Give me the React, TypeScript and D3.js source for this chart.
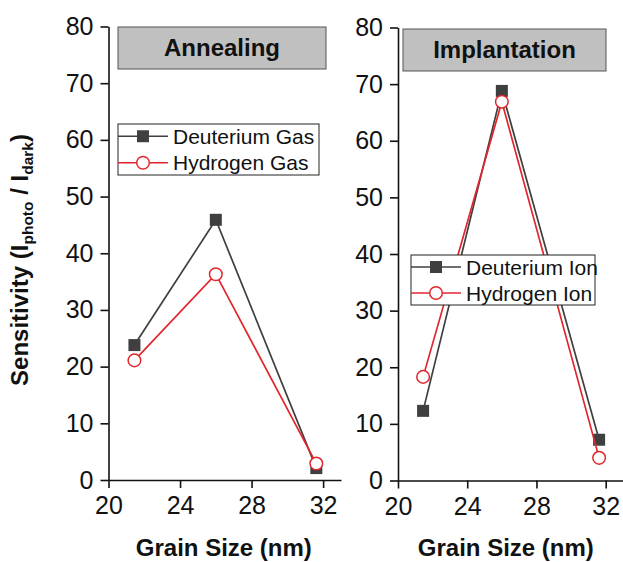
import React, { useEffect, useRef } from "react";
import * as d3 from "d3";

// grain size (nm) for each sample
const grainSize: number[] = [21.45, 26.0, 31.62];

// annealing panel
const deuteriumGas: number[] = [23.8, 45.9, 2.1];
const hydrogenGas: number[] = [21.1, 36.3, 2.9];

// implantation panel
const deuteriumIon: number[] = [12.3, 68.8, 7.2];
const hydrogenIon: number[] = [18.3, 66.9, 4.0];

const xTicks: number[] = [20, 24, 28, 32];
const yTicks: number[] = [0, 10, 20, 30, 40, 50, 60, 70, 80];

const FONT = "'Liberation Sans', Arial, Helvetica, sans-serif";
const DARK = "#3f3f3f";
const RED = "#e2262c";

type Panel = {
  title: string;
  left: number;
  right: number;
  top: number;
  bottom: number;
  titleBox: [number, number, number, number];
  legendBox: [number, number, number, number];
  legendNames: [string, string];
  dSeries: number[];
  hSeries: number[];
};

const panels: Panel[] = [
  {
    title: "Annealing",
    left: 108.5, right: 341, top: 26.5, bottom: 480,
    titleBox: [118, 27, 208, 42],
    legendBox: [118, 124, 201, 51],
    legendNames: ["Deuterium Gas", "Hydrogen Gas"],
    dSeries: deuteriumGas,
    hSeries: hydrogenGas,
  },
  {
    title: "Implantation",
    left: 398, right: 623, top: 27.5, bottom: 480.5,
    titleBox: [403, 29, 203, 42],
    legendBox: [411, 255, 184, 50],
    legendNames: ["Deuterium Ion", "Hydrogen Ion"],
    dSeries: deuteriumIon,
    hSeries: hydrogenIon,
  },
];

export default function App() {
  const ref = useRef<SVGSVGElement>(null);

  useEffect(() => {
    document.body.style.margin = "0";
    const svg = d3.select(ref.current);
    svg.selectAll("*").remove();

    svg.append("rect").attr("width", 623).attr("height", 562).attr("fill", "#fff");

    panels.forEach((p) => {
      const x = d3.scaleLinear().domain([20, 33]).range([p.left, p.right]);
      const y = d3.scaleLinear().domain([0, 80]).range([p.bottom, p.top]);
      const g = svg.append("g");

      // x axis
      const xg = g.append("g")
        .attr("transform", `translate(0,${p.bottom})`)
        .call(d3.axisBottom(x).tickValues(xTicks).tickSize(8).tickSizeOuter(0).tickPadding(6));
      xg.selectAll("text").attr("font-size", 25).attr("font-family", FONT).attr("fill", "#111").attr("dy", "0.8em");

      // y axis
      const yg = g.append("g")
        .attr("transform", `translate(${p.left},0)`)
        .call(d3.axisLeft(y).tickValues(yTicks).tickSize(8).tickSizeOuter(0).tickPadding(7));
      yg.selectAll("text").attr("font-size", 25).attr("font-family", FONT).attr("fill", "#111");

      [xg, yg].forEach((a) => {
        a.select(".domain").attr("stroke", "#111").attr("stroke-width", 1.6);
        a.selectAll(".tick line").attr("stroke", "#111").attr("stroke-width", 1.6);
      });

      // title box
      const [tx, ty, tw, th] = p.titleBox;
      g.append("rect")
        .attr("x", tx).attr("y", ty).attr("width", tw).attr("height", th)
        .attr("fill", "#c0c0c0").attr("stroke", "#555").attr("stroke-width", 1);
      g.append("text")
        .attr("x", tx + tw / 2).attr("y", ty + th / 2 + 8)
        .attr("text-anchor", "middle")
        .attr("font-family", FONT).attr("font-weight", "bold").attr("font-size", 24)
        .attr("fill", "#111")
        .text(p.title);

      // series
      const line = d3.line<number>()
        .x((_, i) => x(grainSize[i]))
        .y((d) => y(d));

      g.append("path").datum(p.dSeries)
        .attr("d", line).attr("fill", "none").attr("stroke", DARK).attr("stroke-width", 1.7);
      g.selectAll(".sq").data(p.dSeries).enter().append("rect")
        .attr("x", (_, i) => x(grainSize[i]) - 6)
        .attr("y", (d) => y(d) - 6)
        .attr("width", 12).attr("height", 12)
        .attr("fill", DARK);

      g.append("path").datum(p.hSeries)
        .attr("d", line).attr("fill", "none").attr("stroke", RED).attr("stroke-width", 1.7);
      g.selectAll(".ci").data(p.hSeries).enter().append("circle")
        .attr("cx", (_, i) => x(grainSize[i]))
        .attr("cy", (d) => y(d))
        .attr("r", 6.3)
        .attr("fill", "#fff").attr("stroke", RED).attr("stroke-width", 1.5);

      // legend
      const [lx, ly, lw, lh] = p.legendBox;
      g.append("rect")
        .attr("x", lx).attr("y", ly).attr("width", lw).attr("height", lh)
        .attr("fill", "#fff").attr("stroke", "#222").attr("stroke-width", 1);
      const rows = [ly + lh * 0.24, ly + lh * 0.76];
      const symEnd = lx + 50;
      const symMid = lx + 25;
      p.legendNames.forEach((name, k) => {
        const col = k === 0 ? DARK : RED;
        g.append("line")
          .attr("x1", lx).attr("x2", symEnd).attr("y1", rows[k]).attr("y2", rows[k])
          .attr("stroke", col).attr("stroke-width", 1.7);
        if (k === 0) {
          g.append("rect")
            .attr("x", symMid - 6).attr("y", rows[k] - 6).attr("width", 12).attr("height", 12)
            .attr("fill", DARK);
        } else {
          g.append("circle")
            .attr("cx", symMid).attr("cy", rows[k]).attr("r", 6.3)
            .attr("fill", "#fff").attr("stroke", RED).attr("stroke-width", 1.5);
        }
        g.append("text")
          .attr("x", symEnd + 5).attr("y", rows[k] + 7.5)
          .attr("font-family", FONT).attr("font-size", 21).attr("fill", "#111")
          .text(name);
      });

      // x label
      g.append("text")
        .attr("x", (x(20) + x(32)) / 2 + (p.left < 200 ? 8 : 4)).attr("y", 556)
        .attr("text-anchor", "middle")
        .attr("font-family", FONT).attr("font-weight", "bold").attr("font-size", 24)
        .attr("fill", "#111")
        .text("Grain Size (nm)");
    });

    // y label
    const yl = svg.append("text")
      .attr("transform", "translate(28,260) rotate(-90)")
      .attr("text-anchor", "middle")
      .attr("font-family", FONT).attr("font-weight", "bold").attr("font-size", 24)
      .attr("fill", "#111");
    yl.append("tspan").text("Sensitivity (I");
    yl.append("tspan").attr("font-size", 15.5).attr("dy", 5).text("photo");
    yl.append("tspan").attr("dy", -5).text(" / I");
    yl.append("tspan").attr("font-size", 15.5).attr("dy", 5).text("dark");
    yl.append("tspan").attr("dy", -5).text(")");
  }, []);

  return <svg ref={ref} width={623} height={562} style={{ display: "block" }} />;
}
